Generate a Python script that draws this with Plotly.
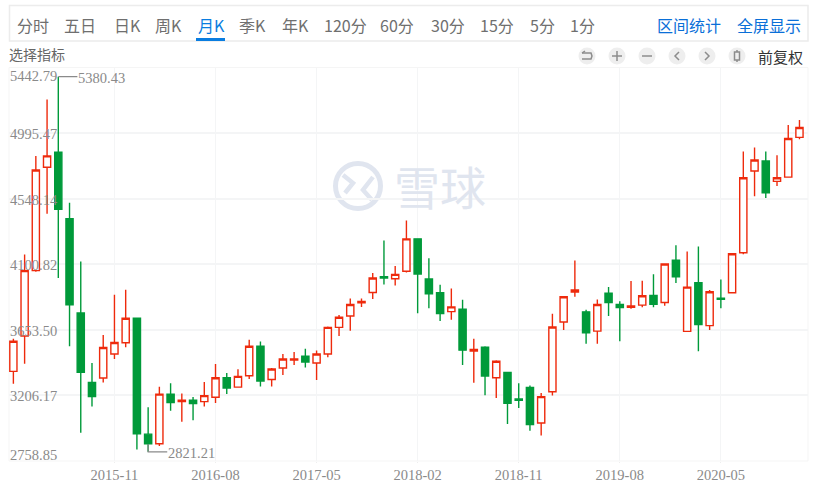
import plotly.graph_objects as go

W, H = 816, 488
months = []
y0, m0 = 2015, 2
for i in range(71):
    months.append(f"{y0}-{m0:02d}")
    m0 += 1
    if m0 > 12:
        m0 = 1
        y0 += 1

opens = [3370,3611,4057,4762,4865,4412,3769,3295,3325,3489,3565,3732,2942,2876,3215,3164,3173,3164,3194,3327,3263,3340,3542,3315,3393,3448,3473,3427,3489,3670,3748,3838,3908,4016,4002,4053,4274,4000,3906,3778,3794,3508,3535,3327,3363,3182,3260,3018,3231,3707,3911,3776,3645,3904,3826,3808,3822,3888,3840,4128,3643,3975,3682,3870,3906,4179,4737,4805,4666,4695,4966]
highs = [3592,4167,4840,5224,5380.43,4521,4119,3427,3618,3892,3927,3732,3125,3265,3290,3219,3196,3297,3421,3359,3384,3586,3574,3393,3489,3503,3524,3512,3677,3755,3867,3867,4041,4263,4089,4400,4274,4142,3961,3936,3858,3593,3542,3446,3363,3290,3274,3222,3764,3885,4126,3791,3860,3945,3849,3986,3989,4032,4103,4231,4188,4222,3926,3996,4172,4869,4897,4869,4844,5050,5085]
lows = [3286,3423,4050,4446,4007,3542,2951,3130,3295,3455,3535,2837,2821.21,2862,3102,3027,3036,3130,3155,3215,3259,3318,3267,3267,3345,3414,3396,3311,3467,3611,3647,3810,3863,3963,3956,4045,3766,3801,3714,3723,3414,3293,3208,3189,3011,3121,2965,2933,3205,3652,3879,3558,3558,3748,3576,3798,3808,3808,3817,3973,3640,3508,3652,3801,3901,4169,4565,4553,4634,4695,4954]
closes = [3576,4057,4744,4840,4476,3824,3363,3199,3533,3567,3732,2944,2876,3215,3157,3173,3150,3205,3327,3256,3336,3542,3304,3386,3455,3455,3434,3489,3670,3739,3826,3847,4007,4007,4032,4274,4034,3899,3764,3810,3515,3519,3338,3439,3153,3173,3008,3198,3673,3879,3925,3634,3826,3840,3805,3817,3886,3828,4103,4016,3945,3689,3913,3861,4172,4691,4812,4588,4691,4959,5034]

y_ticks = [2758.85, 3206.17, 3653.50, 4100.82, 4548.14, 4995.47, 5442.79]
x_ticks = ["2015-11", "2016-08", "2017-05", "2018-02", "2018-11", "2019-08", "2020-05"]
tabs = ["分时", "五日", "日K", "周K", "月K", "季K", "年K", "120分", "60分", "30分", "15分", "5分", "1分"]
tab_x = [33, 80, 127, 168, 211, 252, 295, 345, 397, 448, 497, 542, 582]
tools = ["区间统计", "全屏显示"]
tools_x = [688.5, 768.5]

L, R, T, B = 9, 808, 67.5, 461


def px(x):
    return x / W


def py(y):
    return 1 - y / H


RED = "#ee2a0c"
GREEN = "#009a3a"
GRID = "#f4f5f6"
GREY = "#8a8a8a"
WM = "#e0e5ef"
SERIF = "Liberation Serif"
CJK = "Noto Sans CJK SC"

fig = go.Figure(
    go.Candlestick(
        x=months, open=opens, high=highs, low=lows, close=closes,
        increasing=dict(line=dict(color=RED, width=1.4), fillcolor="#ffffff"),
        decreasing=dict(line=dict(color=GREEN, width=1.4), fillcolor=GREEN),
        whiskerwidth=0, showlegend=False, hoverinfo="skip",
    )
)


def label(x, y, text, family=CJK, size=16, color="#6f6f6f", xanchor="center", xref="paper", yref="paper",
          xshift=0, yshift=0):
    return dict(xref=xref, yref=yref, x=x, y=y, text=text, showarrow=False, xanchor=xanchor, yanchor="middle",
                xshift=xshift, yshift=yshift, font=dict(family=family, size=size, color=color))


ann = []
for t, x in zip(tabs, tab_x):
    ann.append(label(px(x), py(25), t, color="#0a7de0" if t == "月K" else "#6f6f6f"))
for t, x in zip(tools, tools_x):
    ann.append(label(px(x), py(25), t, color="#0a6fd8"))
ann.append(label(px(7), py(54), "选择指标", size=14, color="#666666", xanchor="left"))
ann.append(label(px(805), py(56), "前复权", size=15, color="#333333", xanchor="right"))

# value labels sit inside the plot; the first and last are placed inside its edges
for v in y_ticks:
    if v == y_ticks[0]:
        ann.append(label(px(7.5), py(455), f"{v:.2f}", family=SERIF, size=14.5, color=GREY, xanchor="left"))
    elif v == y_ticks[-1]:
        ann.append(label(px(7.5), py(76.5), f"{v:.2f}", family=SERIF, size=14.5, color=GREY, xanchor="left"))
    else:
        ann.append(label(px(7.5), v, f"{v:.2f}", family=SERIF, size=14.5, color=GREY, xanchor="left", yref="y", yshift=-1))

ann.append(label(4, 5380.43, "5380.43", family=SERIF, size=14.5, color=GREY, xanchor="left", xref="x", yref="y", xshift=18, yshift=-1))
ann.append(label(12, 2821.21, "2821.21", family=SERIF, size=14.5, color=GREY, xanchor="left", xref="x", yref="y", xshift=18, yshift=-1))

# watermark
ann.append(label(px(440), py(185), "雪球", size=46, color=WM))

shapes = [
    dict(type="rect", xref="paper", yref="paper", x0=px(9.5), x1=px(808), y0=py(5.5), y1=py(41),
         line=dict(color="#ececec", width=1.5), fillcolor="#ffffff", layer="below"),
    dict(type="rect", xref="paper", yref="paper", x0=px(196), x1=px(225), y0=py(38), y1=py(41),
         line=dict(width=0), fillcolor="#0a7de0"),
    dict(type="rect", xref="paper", yref="paper", x0=px(L), x1=px(R), y0=py(T), y1=py(B),
         line=dict(color="#f5f5f5", width=1), layer="below"),
    dict(type="circle", xref="paper", yref="paper", x0=px(335.5), x1=px(380.5), y0=py(163.5), y1=py(208.5),
         line=dict(color=WM, width=5), layer="below"),
    dict(type="path", xref="paper", yref="paper", layer="below", line=dict(color=WM, width=4.5),
         path=f"M {px(343)} {py(175)} L {px(353)} {py(183)} L {px(345)} {py(193)}"),
    dict(type="path", xref="paper", yref="paper", layer="below", line=dict(color=WM, width=4.5),
         path=f"M {px(373)} {py(177)} L {px(363)} {py(190)} L {px(372)} {py(200)}"),
    # leader lines to the extreme values
    dict(type="line", xref="x", yref="y", x0=4, x1=5.7, y0=5380.43, y1=5380.43, line=dict(color=GREY, width=1.2)),
    dict(type="path", xref="x", yref="y", line=dict(color=GREY, width=1.2),
         path="M 12 2875 L 12 2821.21 L 13.7 2821.21"),
]
for cx in (587, 617, 647, 677, 707, 737):
    shapes.append(dict(type="circle", xref="paper", yref="paper", x0=px(cx - 8.5), x1=px(cx + 8.5),
                       y0=py(47.5), y1=py(64.5), line=dict(width=0), fillcolor="#eeeeee"))


def seg(pts):
    return "M " + " L ".join(f"{px(a)} {py(b)}" for a, b in pts)


ICON = dict(color="#8c8c8c", width=1.5)
for pts in (
    [(582, 53), (591, 53), (592, 56), (591, 59), (582, 59)],
    [(582, 53), (585, 51)],
    [(612, 56), (622, 56)],
    [(617, 51), (617, 61)],
    [(642, 56), (652, 56)],
    [(679, 52), (675, 56), (679, 60)],
    [(705, 52), (709, 56), (705, 60)],
    [(737, 50), (737, 62)],
):
    shapes.append(dict(type="path", xref="paper", yref="paper", path=seg(pts), line=ICON))
shapes.append(dict(type="rect", xref="paper", yref="paper", x0=px(734.5), x1=px(739.5), y0=py(52), y1=py(60),
                   line=ICON, fillcolor="#eeeeee"))

fig.update_layout(
    width=W, height=H, margin=dict(l=0, r=0, t=0, b=0),
    paper_bgcolor="#ffffff", plot_bgcolor="#ffffff", showlegend=False,
    annotations=ann, shapes=shapes, boxgap=0.2, boxgroupgap=0.2,
    xaxis=dict(
        type="category", categoryorder="array", categoryarray=months,
        domain=[px(L), px(R)], range=[-0.39, 70.76], rangeslider=dict(visible=False),
        tickmode="array", tickvals=x_ticks, ticktext=x_ticks,
        showgrid=True, gridcolor=GRID, gridwidth=1, zeroline=False,
        ticks="outside", ticklen=1, tickcolor="#eeeeee",
        tickfont=dict(family=SERIF, size=14.5, color=GREY), showline=False,
    ),
    yaxis=dict(
        domain=[py(B), py(T)], range=[2758.85, 5442.79],
        tickmode="array", tickvals=y_ticks, showticklabels=False,
        showgrid=True, gridcolor=GRID, gridwidth=1.5, zeroline=False, ticks="",
    ),
)

fig.write_html("out.html", config=dict(displayModeBar=False),
               post_script="document.body.style.margin='0';document.documentElement.style.overflow='hidden';")
